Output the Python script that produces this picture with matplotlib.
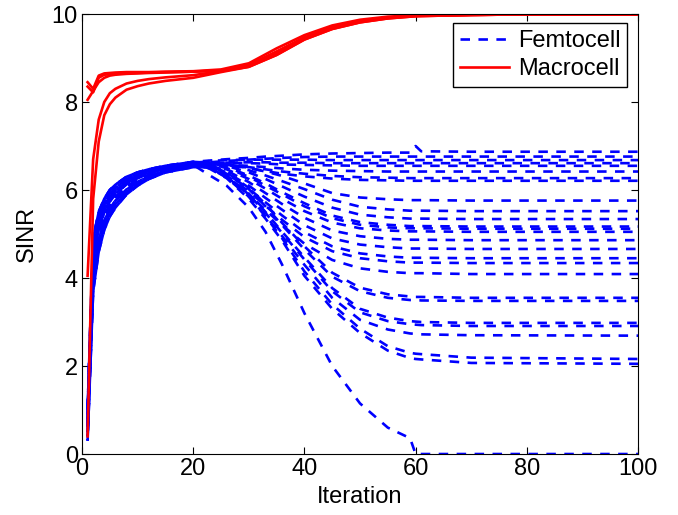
import matplotlib
matplotlib.use("Agg")
import matplotlib.pyplot as plt

plt.rcParams["font.family"] = ["Liberation Sans", "DejaVu Sans"]

# Iterationen: Anstieg (1..20) und weiterer Verlauf (23..100)
rise_iters = [1, 2, 3, 4, 5, 6, 8, 10, 12, 15, 20]
tail_iters = [23, 26, 30, 33, 36, 40, 45, 50, 55, 59, 60, 61, 70, 100]

# Anstiegsprofile der Femtozellen (oberer bis unterer Rand des Bündels)
femto_rise = [
    [1.0, 4.90, 5.50, 5.80, 6.00, 6.12, 6.30, 6.40, 6.47, 6.55, 6.64],
    [0.9, 4.75, 5.38, 5.70, 5.91, 6.05, 6.24, 6.36, 6.44, 6.53, 6.62],
    [0.8, 4.55, 5.25, 5.60, 5.83, 5.98, 6.18, 6.32, 6.41, 6.51, 6.61],
    [0.7, 4.40, 5.12, 5.50, 5.74, 5.91, 6.13, 6.27, 6.38, 6.49, 6.59],
    [0.6, 4.20, 5.00, 5.40, 5.65, 5.83, 6.07, 6.22, 6.34, 6.46, 6.57],
    [0.5, 4.05, 4.87, 5.30, 5.57, 5.76, 6.01, 6.18, 6.31, 6.44, 6.56],
    [0.4, 3.85, 4.73, 5.20, 5.48, 5.68, 5.95, 6.14, 6.28, 6.42, 6.54],
    [0.3, 3.70, 4.60, 5.10, 5.40, 5.60, 5.90, 6.10, 6.25, 6.40, 6.52],
]

# Femtozellen, die oben bleiben
femto_top = [
    [6.67, 6.70, 6.73, 6.76, 6.78, 6.81, 6.83, 6.84, 6.85, 6.85, 7.0, 6.88, 6.87, 6.87],
    [6.63, 6.66, 6.69, 6.71, 6.73, 6.75, 6.76, 6.76, 6.76, 6.76, 6.76, 6.76, 6.76, 6.76],
    [6.66, 6.68, 6.69, 6.69, 6.69, 6.69, 6.68, 6.68, 6.68, 6.68, 6.68, 6.68, 6.68, 6.68],
    [6.60, 6.62, 6.63, 6.63, 6.62, 6.62, 6.61, 6.61, 6.61, 6.61, 6.61, 6.61, 6.61, 6.61],
    [6.62, 6.62, 6.61, 6.60, 6.58, 6.57, 6.56, 6.55, 6.55, 6.55, 6.55, 6.55, 6.55, 6.55],
    [6.57, 6.57, 6.55, 6.52, 6.49, 6.46, 6.44, 6.43, 6.42, 6.42, 6.42, 6.42, 6.42, 6.42],
    [6.60, 6.58, 6.52, 6.47, 6.42, 6.37, 6.32, 6.29, 6.28, 6.27, 6.27, 6.27, 6.27, 6.27],
    [6.60, 6.57, 6.50, 6.43, 6.37, 6.31, 6.26, 6.23, 6.22, 6.21, 6.21, 6.21, 6.21, 6.21],
]
femto_top_rise = [0, 1, 2, 3, 4, 5, 6, 7]

# Femtozellen im Mittelfeld
femto_mid = [
    [6.62, 6.60, 6.50, 6.42, 6.32, 6.15, 5.93, 5.83, 5.79, 5.77, 5.77, 5.77, 5.76, 5.76],
    [6.62, 6.58, 6.45, 6.33, 6.20, 6.02, 5.78, 5.62, 5.56, 5.53, 5.53, 5.53, 5.52, 5.52],
    [6.60, 6.55, 6.40, 6.25, 6.08, 5.85, 5.60, 5.44, 5.38, 5.35, 5.35, 5.35, 5.34, 5.34],
    [6.60, 6.52, 6.33, 6.15, 5.95, 5.70, 5.42, 5.27, 5.21, 5.18, 5.18, 5.18, 5.17, 5.17],
    [6.58, 6.50, 6.30, 6.10, 5.90, 5.63, 5.36, 5.21, 5.15, 5.13, 5.13, 5.13, 5.12, 5.12],
    [6.57, 6.47, 6.25, 6.03, 5.80, 5.52, 5.26, 5.13, 5.08, 5.06, 5.06, 5.06, 5.05, 5.05],
    [6.56, 6.44, 6.18, 5.93, 5.68, 5.37, 5.08, 4.95, 4.89, 4.87, 4.87, 4.87, 4.86, 4.86],
    [6.55, 6.40, 6.10, 5.82, 5.55, 5.20, 4.90, 4.76, 4.70, 4.67, 4.67, 4.67, 4.66, 4.66],
    [6.54, 6.37, 6.03, 5.72, 5.42, 5.04, 4.72, 4.56, 4.49, 4.46, 4.46, 4.46, 4.45, 4.45],
    [6.52, 6.33, 5.97, 5.64, 5.32, 4.93, 4.61, 4.45, 4.38, 4.35, 4.35, 4.35, 4.34, 4.34],
    [6.50, 6.30, 5.90, 5.55, 5.20, 4.78, 4.41, 4.22, 4.14, 4.11, 4.11, 4.11, 4.09, 4.09],
]
femto_mid_rise = [2, 0, 4, 6, 1, 3, 5, 7, 0, 2, 4]

# Femtozellen mit starkem Einbruch
femto_low = [
    [6.56, 6.40, 6.05, 5.68, 5.25, 4.72, 4.12, 3.78, 3.63, 3.58, 3.57, 3.57, 3.55, 3.55],
    [6.55, 6.38, 6.02, 5.63, 5.20, 4.65, 4.03, 3.70, 3.55, 3.50, 3.50, 3.49, 3.48, 3.48],
    [6.53, 6.32, 5.92, 5.50, 5.05, 4.47, 3.77, 3.30, 3.10, 3.02, 3.01, 3.00, 2.98, 2.98],
    [6.52, 6.30, 5.90, 5.48, 5.02, 4.42, 3.70, 3.22, 3.02, 2.95, 2.94, 2.93, 2.91, 2.91],
    [6.50, 6.28, 5.85, 5.42, 4.95, 4.30, 3.55, 3.05, 2.83, 2.74, 2.73, 2.72, 2.70, 2.69],
    [6.50, 6.30, 5.85, 5.40, 4.90, 4.15, 3.40, 2.85, 2.45, 2.30, 2.28, 2.27, 2.19, 2.16],
    [6.48, 6.27, 5.80, 5.35, 4.85, 4.05, 3.30, 2.75, 2.35, 2.18, 2.16, 2.15, 2.07, 2.05],
    [6.33, 6.10, 5.60, 5.05, 4.30, 3.20, 2.00, 1.15, 0.60, 0.36, 0.0, 0.0, 0.0, 0.0],
]
femto_low_rise = [1, 3, 5, 7, 6, 0, 2, 4]

# Makrozellen
macro_iters = [1, 2, 3, 4, 5, 6, 8, 10, 12, 15, 20, 25, 30, 35, 40, 45, 50, 55, 60, 70, 80, 100]
macro_sinr = [
    [8.45, 8.30, 8.60, 8.65, 8.66, 8.67, 8.68, 8.68, 8.68, 8.69, 8.70, 8.74, 8.88, 9.22, 9.52, 9.74, 9.87, 9.94, 9.97, 9.98, 9.99, 9.99],
    [8.35, 8.22, 8.55, 8.62, 8.63, 8.64, 8.65, 8.66, 8.67, 8.68, 8.69, 8.72, 8.84, 9.15, 9.47, 9.70, 9.84, 9.92, 9.96, 9.98, 9.99, 9.99],
    [8.05, 8.25, 8.45, 8.55, 8.60, 8.62, 8.64, 8.65, 8.66, 8.67, 8.69, 8.71, 8.82, 9.12, 9.45, 9.69, 9.83, 9.91, 9.96, 9.98, 9.99, 9.99],
    [4.05, 6.70, 7.60, 8.00, 8.20, 8.30, 8.42, 8.48, 8.52, 8.56, 8.61, 8.70, 8.80, 9.07, 9.42, 9.66, 9.81, 9.90, 9.95, 9.98, 9.99, 9.99],
    [0.40, 5.80, 7.10, 7.70, 7.95, 8.10, 8.28, 8.36, 8.42, 8.48, 8.55, 8.68, 8.80, 9.07, 9.42, 9.66, 9.81, 9.90, 9.95, 9.98, 9.99, 9.99],
]

fig = plt.figure(figsize=(6.78, 5.15), dpi=100)
ax = fig.add_axes([0.121, 0.1184, 0.820, 0.8544])

lw = 1.9
dash = (3.6, 3.2)
femto_x = rise_iters + tail_iters

# Strichphase pro Kurve versetzt, damit sich das Bündel füllt
n = 0
for groups, rise_idx in [(femto_top, femto_top_rise), (femto_mid, femto_mid_rise), (femto_low, femto_low_rise)]:
    for tail, r in zip(groups, rise_idx):
        offset = (n * 1.7) % (dash[0] + dash[1])
        ax.plot(femto_x, femto_rise[r] + tail, color="blue", linewidth=lw,
                linestyle=(offset * lw, (dash[0], dash[1])))
        n += 1

for vals in macro_sinr:
    ax.plot(macro_iters, vals, color="red", linewidth=lw)

# Legende mit je einem Eintrag
femto_handle, = ax.plot([], [], color="blue", linewidth=lw, linestyle="--", dashes=dash)
macro_handle, = ax.plot([], [], color="red", linewidth=lw)
ax.legend([femto_handle, macro_handle], ["Femtocell", "Macrocell"],
          loc="upper right", bbox_to_anchor=(0.981, 0.980), borderaxespad=0,
          fancybox=False, edgecolor="black", framealpha=1, fontsize=17,
          handlelength=2.1, handletextpad=0.35, borderpad=0.3, labelspacing=0.25)

ax.set_xlim(0, 100)
ax.set_ylim(0, 10)
ax.set_xticks([0, 20, 40, 60, 80, 100])
ax.set_yticks([0, 2, 4, 6, 8, 10])
ax.tick_params(direction="in", top=True, right=True, length=5, labelsize=17, pad=3)
ax.set_xlabel("Iteration", fontsize=17, labelpad=4)
ax.set_ylabel("SINR", fontsize=17, labelpad=10)

fig.savefig("out.png", dpi=100)
